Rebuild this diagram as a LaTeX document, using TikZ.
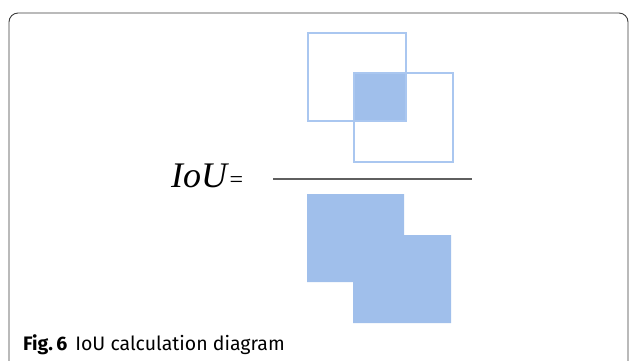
\documentclass[tikz,border=0pt]{standalone}
\usepackage{fontspec}
\setmainfont{Liberation Serif}
\newfontfamily\capfont{Fira Sans}
\definecolor{boxblue}{RGB}{160,191,235}
\definecolor{lineblue}{RGB}{170,199,240}
\definecolor{framegray}{RGB}{60,60,60}
\definecolor{bargray}{RGB}{95,95,95}
\tikzset{
  outbox/.style={draw=lineblue, line width=1.7pt},
  fillbox/.style={fill=boxblue, draw=none},
}
\begin{document}
\begin{tikzpicture}[x=1pt,y=-1pt]
\useasboundingbox (0,0) rectangle (629,360);
% frame
\draw[framegray, line width=0.9pt, rounded corners=9pt] (9,365) -- (9,13) -- (628,13) -- (628,365);

% numerator: intersection
\fill[fillbox] (354,73) rectangle (406,121);
\draw[outbox] (308,33) rectangle (406,121);
\draw[outbox] (354,73) rectangle (453,162);

% fraction bar
\coordinate (barl) at (273,179);
\coordinate (barr) at (472,179);
\draw[bargray, line width=1.5pt] (barl) -- (barr);

% denominator: union
\fill[fillbox] (307,194) -- (404,194) -- (404,235) -- (451,235) -- (451,323)
  -- (353,323) -- (353,282) -- (307,282) -- cycle;

\node[anchor=base west, inner sep=0, font=\itshape\fontsize{36}{36}\selectfont] (iou) at (171,187) {IoU};
\node[anchor=base west, inner sep=0, font=\fontsize{24}{24}\selectfont] (eq) at ([xshift=2pt]iou.base east) {=};

% caption
\node[anchor=base west, inner sep=0, font=\capfont\fontsize{19.5}{19.5}\selectfont] (cap) at (23,350)
  {\textbf{Fig.\,6}\hspace{8pt}IoU calculation diagram};
\end{tikzpicture}
\end{document}
